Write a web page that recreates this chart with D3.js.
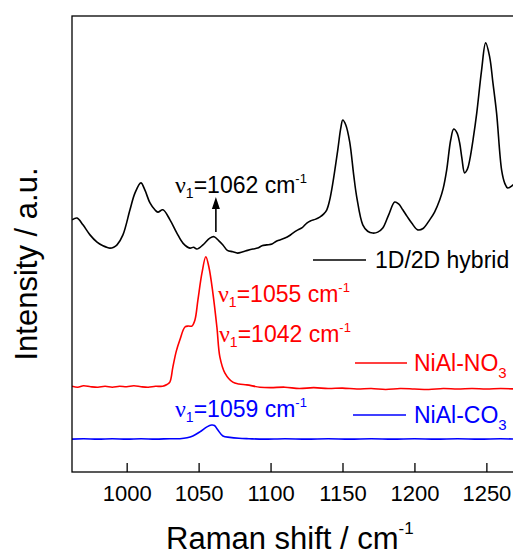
<!DOCTYPE html>
<html>
<head>
<meta charset="utf-8">
<script src="https://cdn.jsdelivr.net/npm/d3@7/dist/d3.min.js"></script>
<style>
  html, body { margin: 0; padding: 0; background: #fff; }
  svg { display: block; }
  text { font-family: Arial, "Liberation Sans", sans-serif; }
</style>
</head>
<body>
<svg id="chart" width="513" height="556"></svg>
<script>
// Raman spectra (arbitrary intensity units, curves offset vertically)
const hybridShift = [962, 965.5, 969.6, 974.5, 979.4, 983.5, 986, 988.4, 991, 993.3, 997.4, 1002.3, 1005.8, 1009.9, 1012.7, 1016.2, 1019.6, 1021.7, 1025.2, 1030.1, 1034.9, 1039.1, 1044, 1046.5, 1048.8, 1053, 1057.8, 1060.8, 1064.1, 1066.9, 1070, 1073.8, 1077, 1080.8, 1084, 1087.7, 1091, 1094, 1097.4, 1101, 1104, 1106.4, 1110, 1113, 1115.5, 1119, 1122, 1125.2, 1128, 1131, 1134.2, 1137, 1139.1, 1141, 1143.3, 1146.7, 1148.8, 1150.2, 1152.3, 1155, 1157.8, 1159.9, 1164.1, 1167.5, 1171, 1174.5, 1178, 1182.1, 1186.3, 1189, 1191.9, 1195, 1198.1, 1202.3, 1206, 1210.6, 1214, 1217.6, 1220, 1222.4, 1225.2, 1227.3, 1229.5, 1231.4, 1233, 1234.9, 1236.8, 1238.4, 1240.8, 1243.3, 1246.7, 1249.5, 1252.3, 1254.5, 1257.1, 1260.6, 1262.8, 1264.8, 1268.3, 1270];
const hybridIntensity = [55.3, 55.7, 54.2, 52.0, 50.4, 49.6, 49.3, 49.1, 49.3, 49.8, 52.0, 57.5, 61.2, 63.4, 61.8, 59.0, 57.5, 57.0, 57.5, 55.3, 52.4, 50.2, 49.1, 49.3, 48.9, 49.8, 51.3, 51.6, 50.7, 49.8, 48.6, 48.3, 48.0, 48.3, 48.6, 48.9, 49.1, 49.6, 49.8, 50.0, 50.6, 50.9, 51.3, 51.8, 52.4, 53.1, 53.6, 54.6, 55.1, 55.4, 55.9, 56.6, 57.5, 59.5, 63.4, 70.6, 75.4, 77.2, 76.1, 72.4, 65.1, 60.3, 54.2, 52.8, 52.4, 52.6, 53.5, 56.4, 59.2, 58.8, 57.5, 56.0, 54.6, 53.1, 53.4, 55.3, 57.0, 59.7, 62.2, 66.2, 72.8, 75.2, 74.4, 72.2, 68.8, 65.6, 66.4, 68.4, 73.0, 78.7, 88.2, 94.1, 91.0, 85.5, 78.7, 66.2, 63.3, 62.3, 62.9, 63.4];

const no3Shift = [962, 966, 970, 975, 980, 985, 990, 995, 1000, 1005, 1010, 1015, 1020, 1025, 1028, 1030, 1032.1, 1034.5, 1037, 1040.5, 1043, 1045.3, 1047.4, 1049.5, 1052.3, 1055, 1057.1, 1059.9, 1062.7, 1064.8, 1068.3, 1073.8, 1078, 1083.5, 1092.6, 1100, 1110, 1120, 1130, 1140, 1150, 1160, 1170, 1180, 1190, 1200, 1210, 1220, 1230, 1240, 1250, 1260, 1270];
const no3Intensity = [18.8, 18.6, 18.9, 18.7, 18.6, 18.8, 18.6, 18.8, 18.7, 18.9, 18.7, 18.6, 18.8, 18.8, 19.2, 19.7, 23.0, 26.5, 29.0, 31.8, 32.0, 32.0, 33.3, 37.7, 43.6, 47.2, 45.0, 39.3, 31.8, 25.2, 21.7, 19.7, 19.3, 19.1, 18.6, 18.5, 18.6, 18.3, 18.5, 18.3, 18.4, 18.2, 18.3, 18.1, 18.3, 18.2, 18.1, 18.3, 18.2, 18.3, 18.2, 18.3, 18.2];

const co3Shift = [962, 970, 980, 990, 1000, 1010, 1020, 1030, 1037, 1042, 1046, 1050.9, 1055.8, 1059, 1061, 1063.4, 1066.9, 1071.7, 1078, 1085, 1095, 1110, 1125, 1140, 1155, 1170, 1185, 1200, 1215, 1230, 1245, 1260, 1270];
const co3Intensity = [7.2, 7.3, 7.2, 7.3, 7.2, 7.3, 7.2, 7.3, 7.3, 7.5, 7.9, 8.8, 9.9, 10.3, 10.2, 9.2, 7.9, 7.6, 7.4, 7.3, 7.2, 7.3, 7.2, 7.3, 7.2, 7.3, 7.2, 7.3, 7.2, 7.3, 7.2, 7.3, 7.2];

const tickValues = [1000, 1050, 1100, 1150, 1200, 1250];
const seriesNames = ["1D/2D hybrid", "NiAl-NO", "NiAl-CO"];
const seriesColors = ["#000000", "#ff0000", "#0000ff"];
const peakLabels = ["1062", "1055", "1042", "1059"];

const svg = d3.select("#chart");
const plotLeft = 72, plotTop = 16, plotBottom = 472;

const x = d3.scaleLinear().domain([962, 1270]).range([plotLeft, plotLeft + 308 * 1.4388]);
const y = d3.scaleLinear().domain([0, 100]).range([plotBottom, plotTop]);

const line = d3.line()
  .x(d => x(d[0]))
  .y(d => y(d[1]))
  .curve(d3.curveCatmullRom.alpha(0.5));

const series = [
  d3.zip(hybridShift, hybridIntensity),
  d3.zip(no3Shift, no3Intensity),
  d3.zip(co3Shift, co3Intensity)
];

svg.append("defs").append("clipPath").attr("id", "plot")
  .append("rect").attr("x", plotLeft).attr("y", plotTop)
  .attr("width", x.range()[1] - plotLeft).attr("height", plotBottom - plotTop);

const plot = svg.append("g").attr("clip-path", "url(#plot)");
series.forEach((s, i) => {
  plot.append("path")
    .datum(s)
    .attr("fill", "none")
    .attr("stroke", seriesColors[i])
    .attr("stroke-width", 1.6)
    .attr("stroke-linejoin", "round")
    .attr("d", line);
});

// frame
svg.append("rect")
  .attr("x", plotLeft).attr("y", plotTop)
  .attr("width", x.range()[1] - plotLeft).attr("height", plotBottom - plotTop)
  .attr("fill", "none").attr("stroke", "#000").attr("stroke-width", 1.3);

// bottom axis with inward ticks
const xAxis = d3.axisBottom(x)
  .tickValues(tickValues)
  .tickFormat(d3.format("d"))
  .tickSizeInner(-9)
  .tickSizeOuter(0)
  .tickPadding(13);
const gx = svg.append("g").attr("transform", `translate(0,${plotBottom})`).call(xAxis);
gx.select(".domain").remove();
gx.selectAll(".tick line").attr("stroke", "#000").attr("stroke-width", 1.3);
gx.selectAll(".tick text")
  .attr("font-size", 22)
  .attr("font-family", "Arial, 'Liberation Sans', sans-serif")
  .attr("fill", "#000");

// axis titles
const xt = svg.append("text").attr("x", 166).attr("y", 549)
  .attr("font-size", 31).attr("fill", "#000");
xt.append("tspan").text("Raman shift / cm");
xt.append("tspan").attr("font-size", 17).attr("dy", -15).text("-1");

svg.append("text")
  .attr("transform", "translate(37,264) rotate(-90)")
  .attr("text-anchor", "middle")
  .attr("font-size", 31)
  .attr("fill", "#000")
  .text("Intensity / a.u.");

// peak annotations: ν1=xxxx cm-1
function peakLabel(px, py, value, color) {
  const t = svg.append("text").attr("x", px).attr("y", py)
    .attr("font-size", 23).attr("fill", color);
  t.append("tspan").attr("font-family", "'Liberation Serif', 'Times New Roman', serif")
    .attr("font-size", 24).text("ν");
  t.append("tspan").attr("font-size", 14).attr("dy", 5).text("1");
  t.append("tspan").attr("dy", -5).text("=" + value + " cm");
  t.append("tspan").attr("font-size", 13).attr("dy", -10).text("-1");
}
peakLabel(175, 193, peakLabels[0], seriesColors[0]);
peakLabel(218, 302, peakLabels[1], seriesColors[1]);
peakLabel(219, 342, peakLabels[2], seriesColors[1]);
peakLabel(175, 417, peakLabels[3], seriesColors[2]);

// arrow marking the 1062 band of the hybrid
const ax = x(+peakLabels[0]);
svg.append("line")
  .attr("x1", ax).attr("x2", ax)
  .attr("y1", 232).attr("y2", 206)
  .attr("stroke", "#000").attr("stroke-width", 1.6);
svg.append("path")
  .attr("d", d3.line()([[ax - 4, 209], [ax, 197], [ax + 4, 209]]) + "Z")
  .attr("fill", "#000");

// legend
const legendRows = [
  { y: 260, textY: 268, x1: 313, x2: 366 },
  { y: 363, textY: 371, x1: 355, x2: 407 },
  { y: 415, textY: 423, x1: 353, x2: 406 }
];
legendRows.forEach((r, i) => {
  svg.append("line")
    .attr("x1", r.x1).attr("x2", r.x2)
    .attr("y1", r.y).attr("y2", r.y)
    .attr("stroke", seriesColors[i]).attr("stroke-width", 1.6);
  const t = svg.append("text")
    .attr("x", i === 0 ? 375 : 414).attr("y", r.textY)
    .attr("font-size", 23).attr("fill", seriesColors[i]);
  t.append("tspan").text(seriesNames[i]);
  if (i > 0) t.append("tspan").attr("font-size", 15).attr("dy", 7).text("3");
});
</script>
</body>
</html>
